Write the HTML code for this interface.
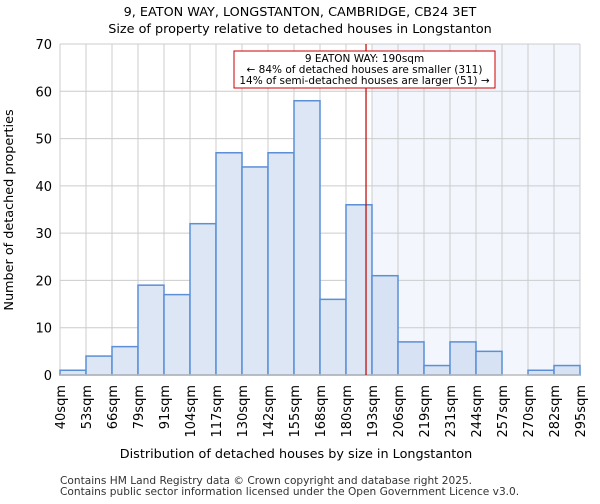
<!DOCTYPE html>
<html><head><meta charset="utf-8"><style>
body{margin:0;background:#fff;font-family:"DejaVu Sans","Liberation Sans",sans-serif}
</style></head><body>
<svg id="chart" width="600" height="500" xmlns="http://www.w3.org/2000/svg" font-family="DejaVu Sans, Liberation Sans, sans-serif">
<text x="300" y="16" text-anchor="middle" font-size="12.8">9, EATON WAY, LONGSTANTON, CAMBRIDGE, CB24 3ET</text>
<text x="300" y="33" text-anchor="middle" font-size="12.8">Size of property relative to detached houses in Longstanton</text>
<g id="plot"></g>
<text x="296" y="458" text-anchor="middle" font-size="12.8">Distribution of detached houses by size in Longstanton</text>
<text transform="translate(13,210) rotate(-90)" text-anchor="middle" font-size="12.8">Number of detached properties</text>
<text x="60" y="484" font-size="10.6" fill="#333">Contains HM Land Registry data © Crown copyright and database right 2025.</text>
<text x="60" y="495" font-size="10.6" fill="#333">Contains public sector information licensed under the Open Government Licence v3.0.</text>
</svg>
<script>
const binLabels=["40sqm","53sqm","66sqm","79sqm","91sqm","104sqm","117sqm","130sqm","142sqm","155sqm","168sqm","180sqm","193sqm","206sqm","219sqm","231sqm","244sqm","257sqm","270sqm","282sqm","295sqm"];
const counts=[1,4,6,19,17,32,47,44,47,58,16,36,21,7,2,7,5,0,1,2];
const yTicks=[0,10,20,30,40,50,60,70];
const propertyBin=11.77;
const highlightFromBin=12;
const L=60,R=580,T=44,B=375,yMax=70;
const n=counts.length,bw=(R-L)/n;
const xs=i=>L+i*bw;
const ys=v=>B-v/yMax*(B-T);
const NS="http://www.w3.org/2000/svg";
const g=document.getElementById('plot');
function mk(t,a){const e=document.createElementNS(NS,t);for(const k in a)e.setAttribute(k,a[k]);g.appendChild(e);return e;}
let e=mk('rect',{x:xs(highlightFromBin),y:T,width:R-xs(highlightFromBin),height:B-T,fill:'#f3f6fd'});


for(let i=0;i<=n;i++){e=mk('line',{x1:xs(i),x2:xs(i),y1:T,y2:B,stroke:'#ccc','stroke-width':1});

}
yTicks.forEach(v=>{e=mk('line',{x1:L,x2:R,y1:ys(v),y2:ys(v),stroke:'#ccc','stroke-width':1});


e=mk('text',{x:L-8,y:ys(v)+5,'text-anchor':'end','font-size':13});e.textContent=v;

});
counts.forEach((c,i)=>{if(c<=0)return;e=mk('rect',{x:xs(i),y:ys(c),width:bw,height:B-ys(c),fill:i>=highlightFromBin?'#d7e3f4':'#dce6f4',stroke:'#5b8fd6','stroke-width':1.5});

});
e=mk('line',{x1:L,x2:R,y1:B,y2:B,stroke:'#bbb','stroke-width':1.5});


binLabels.forEach((l,i)=>{e=mk('text',{transform:`translate(${xs(i)+5},385) rotate(-90)`,'text-anchor':'end','font-size':13});e.textContent=l;

});
const px=xs(propertyBin);
e=mk('line',{x1:px,x2:px,y1:T,y2:B,stroke:'#b00','stroke-width':1.2});


e=mk('rect',{x:234,y:51,width:261,height:37,fill:'#fff',stroke:'#c00','stroke-width':1});


["9 EATON WAY: 190sqm","← 84% of detached houses are smaller (311)","14% of semi-detached houses are larger (51) →"].forEach((t,k)=>{e=mk('text',{x:364.5,y:62+k*11,'text-anchor':'middle','font-size':10.5});e.textContent=t;

});
</script>
</body></html>
